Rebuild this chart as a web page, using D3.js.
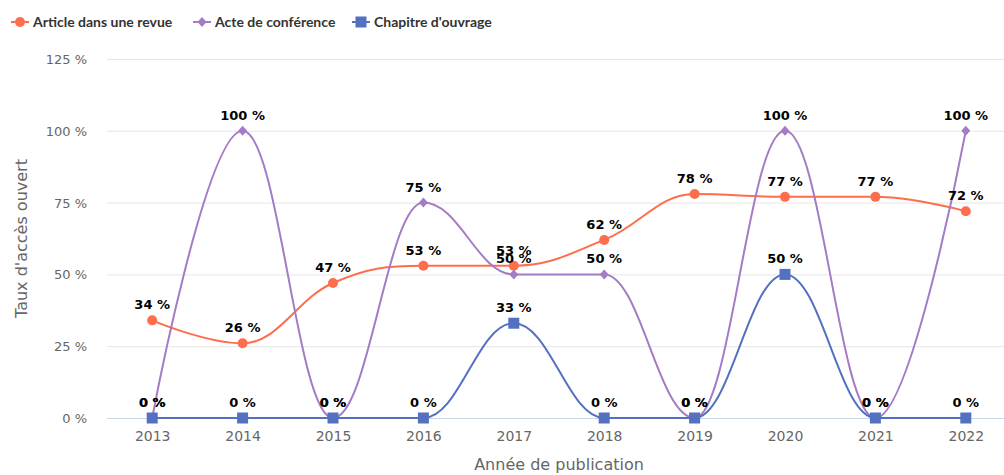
<!DOCTYPE html>
<html><head><meta charset="utf-8">
<script src="https://cdn.jsdelivr.net/npm/d3@7"></script>
<style>body{margin:0;background:#fff;} svg{display:block;}</style>
</head><body>
<svg id="chart" width="1004" height="475"></svg>
<script>
const years = ["2013","2014","2015","2016","2017","2018","2019","2020","2021","2022"];
const articleValues = [34, 26, 47, 53, 53, 62, 78, 77, 77, 72];
const acteValues = [0, 100, 0, 75, 50, 50, 0, 100, 0, 100];
const chapitreValues = [0, 0, 0, 0, 33, 0, 0, 50, 0, 0];
const yTicks = [0, 25, 50, 75, 100, 125];
const seriesNames = ["Article dans une revue", "Acte de conférence", "Chapitre d'ouvrage"];
const seriesColors = ["#fe6d4c", "#a47bc5", "#5470c0"];
const seriesSymbols = ["circle", "diamond", "square"];

const series = [articleValues, acteValues, chapitreValues].map((v, i) => ({
  name: seriesNames[i], color: seriesColors[i], symbol: seriesSymbols[i],
  data: years.map((y, j) => ({year: y, value: v[j]}))
}));

const svg = d3.select("#chart");
const plot = {left: 107, right: 1011, top: 59, bottom: 418};
const x = d3.scalePoint().domain(years).range([plot.left, plot.right]).padding(0.5);
const y = d3.scaleLinear().domain([0, 125]).range([plot.bottom, plot.top]);
const font = "'DejaVu Sans', sans-serif";

// grid
const yAxis = d3.axisLeft(y).tickValues(yTicks).tickSize(-(1004 - plot.left)).tickFormat(d => d + " %").tickPadding(20);
const gy = svg.append("g").attr("transform", `translate(${plot.left},0)`).call(yAxis);
gy.select(".domain").remove();
gy.selectAll(".tick line").attr("stroke", "#e6e6e6").attr("stroke-width", 1);
gy.selectAll(".tick").filter(d => d === 0).select("line").attr("stroke", "#ccd6eb");
gy.selectAll(".tick text").attr("fill", "#666").style("font-family", font).style("font-size", "13px").attr("x", -20).attr("dy", "0.35em");

const xAxis = d3.axisBottom(x).tickSize(0).tickPadding(13);
const gx = svg.append("g").attr("transform", `translate(0,${plot.bottom})`).call(xAxis);
gx.select(".domain").remove();
gx.selectAll(".tick text").attr("fill", "#666").style("font-family", font).style("font-size", "14px");

svg.append("text").attr("x", (plot.left + plot.right) / 2).attr("y", 470)
  .attr("text-anchor", "middle").attr("fill", "#666").style("font-family", font).style("font-size", "16px")
  .text("Année de publication");
svg.append("text").attr("transform", `translate(27,${(plot.top + plot.bottom) / 2}) rotate(-90)`)
  .attr("text-anchor", "middle").attr("fill", "#666").style("font-family", font).style("font-size", "16px")
  .text("Taux d'accès ouvert");

// Highcharts-like spline
function splinePath(pts) {
  const s = 1.5, den = s + 1;
  const p = d3.path();
  const rc = [];
  pts.forEach((pt, i) => {
    const [px, py] = pt;
    let lcx, lcy;
    if (i > 0 && i < pts.length - 1) {
      const [lx, ly] = pts[i - 1], [nx, ny] = pts[i + 1];
      lcx = (s * px + lx) / den; lcy = (s * py + ly) / den;
      let rcx = (s * px + nx) / den, rcy = (s * py + ny) / den;
      if (rcx !== lcx) {
        const corr = ((rcy - lcy) * (rcx - px)) / (rcx - lcx) + py - rcy;
        lcy += corr; rcy += corr;
        if (lcy > ly && lcy > py) { lcy = Math.max(ly, py); rcy = 2 * py - lcy; }
        else if (lcy < ly && lcy < py) { lcy = Math.min(ly, py); rcy = 2 * py - lcy; }
        if (rcy > ny && rcy > py) { rcy = Math.max(ny, py); lcy = 2 * py - rcy; }
        else if (rcy < ny && rcy < py) { rcy = Math.min(ny, py); lcy = 2 * py - rcy; }
      }
      rc[i] = [rcx, rcy];
    }
    if (i === 0) p.moveTo(px, py);
    else {
      const prev = rc[i - 1] || pts[i - 1];
      p.bezierCurveTo(prev[0], prev[1], lcx === undefined ? px : lcx, lcy === undefined ? py : lcy, px, py);
    }
  });
  return p.toString();
}

function marker(g, sym, cx, cy, color) {
  if (sym === "circle") g.append("circle").attr("cx", cx).attr("cy", cy).attr("r", 5).attr("fill", color);
  else if (sym === "square") g.append("rect").attr("x", cx - 5.5).attr("y", cy - 5.5).attr("width", 11).attr("height", 11).attr("fill", color);
  else g.append("path").attr("d", `M${cx},${cy - 5}L${cx + 4.5},${cy}L${cx},${cy + 5}L${cx - 4.5},${cy}Z`).attr("fill", color);
}

series.forEach(s => {
  const g = svg.append("g");
  const pts = s.data.map(d => [x(d.year), y(d.value)]);
  g.append("path").attr("d", splinePath(pts)).attr("fill", "none").attr("stroke", s.color).attr("stroke-width", 2);
  s.data.forEach(d => marker(g, s.symbol, x(d.year), y(d.value), s.color));
});

const lg = svg.append("g");
series.forEach(s => {
  s.data.forEach(d => {
    lg.append("text").attr("x", x(d.year)).attr("y", y(d.value) - 11)
      .attr("text-anchor", "middle").attr("fill", "#000")
      .style("font-family", font).style("font-size", "13px").style("font-weight", "bold")
      .text(d.value + " %");
  });
});

// legend
const legendX = [11, 193, 352];
series.forEach((s, i) => {
  const g = svg.append("g").attr("transform", `translate(${legendX[i]},22)`);
  g.append("line").attr("x1", 0).attr("x2", 18).attr("y1", 0).attr("y2", 0).attr("stroke", s.color).attr("stroke-width", 2);
  marker(g, s.symbol, 9, 0, s.color);
  g.append("text").attr("x", 22).attr("y", 0).attr("dy", "0.35em").attr("fill", "#333")
    .style("font-family", "Lato, sans-serif").style("font-size", "14px").style("font-weight", "bold").text(s.name);
});
</script>
</body></html>
